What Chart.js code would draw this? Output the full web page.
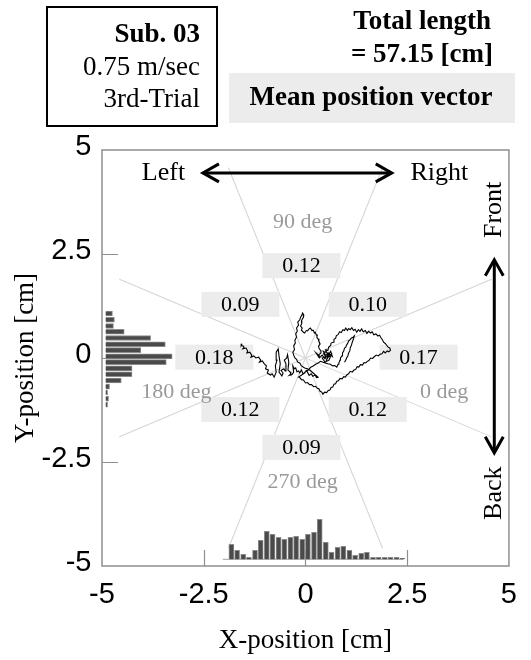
<!DOCTYPE html>
<html><head><meta charset="utf-8">
<script src="https://cdn.jsdelivr.net/npm/chart.js@4"></script>
<style>html,body{margin:0;padding:0;background:#fff;}canvas{display:block;}</style>
</head><body>
<canvas id="c" width="531" height="660"></canvas>
<script>
// ---------------- data ----------------
const xTickValues = [-5, -2.5, 0, 2.5, 5];
const xTickLabels = ['-5', '-2.5', '0', '2.5', '5'];
const yTickValues = [-5, -2.5, 0, 2.5, 5];
const yTickLabels = ['-5', '-2.5', '0', '2.5', '5'];

// trajectory [x, y] in cm
const trajectory = [
 [-1.56,0.34],[-1.58,0.30],[-1.53,0.29],[-1.51,0.26],[-1.54,0.22],[-1.46,0.24],[-1.42,0.17],[-1.44,0.12],[-1.37,0.14],[-1.32,0.07],
 [-1.34,0.02],[-1.27,0.05],[-1.22,0.00],[-1.15,0.02],[-1.10,-0.05],[-1.13,-0.10],[-1.06,-0.07],[-1.01,-0.14],[-0.96,-0.19],[-0.98,-0.26],
 [-0.91,-0.29],[-0.94,-0.36],[-0.86,-0.41],[-0.82,-0.38],[-0.77,-0.46],
 [-0.72,-0.34],[-0.74,-0.19],[-0.70,-0.05],[-0.72,0.14],[-0.67,0.22],[-0.65,0.05],[-0.62,-0.14],[-0.65,-0.34],[-0.58,-0.43],[-0.55,-0.36],
 [-0.60,-0.30],[-0.53,-0.26],[-0.50,-0.31],[-0.48,-0.14],[-0.52,-0.05],[-0.46,0.00],[-0.44,0.08],[-0.41,-0.10],[-0.43,-0.29],[-0.38,-0.33],
 [-0.36,-0.38],[-0.40,-0.42],[-0.33,-0.40],[-0.29,-0.34],[-0.31,-0.19],[-0.27,-0.26],[-0.24,-0.24],[-0.21,-0.33],[-0.17,-0.31],[-0.14,-0.36],
 [-0.10,-0.29],[-0.06,-0.38],[-0.02,-0.36],[0.02,-0.30],[0.05,-0.34],[0.09,-0.42],[0.14,-0.38],[0.18,-0.44],[0.24,-0.41],[0.27,-0.47],[0.31,-0.46],
 [0.19,-0.36],[0.12,-0.30],[0.05,-0.26],[-0.02,-0.24],[-0.10,-0.19],[-0.14,-0.12],[-0.19,-0.10],[-0.22,-0.03],[-0.26,0.00],[-0.29,0.07],
 [-0.31,0.14],[-0.27,0.20],[-0.29,0.29],[-0.25,0.36],[-0.26,0.43],[-0.22,0.50],[-0.24,0.58],[-0.20,0.65],[-0.22,0.72],[-0.17,0.79],
 [-0.19,0.86],[-0.14,0.92],[-0.12,0.98],[-0.09,1.03],[-0.07,1.08],[-0.04,1.03],[-0.05,0.98],[-0.08,0.93],[-0.10,0.89],[-0.09,0.83],
 [-0.12,0.77],[-0.08,0.72],[-0.10,0.67],[-0.05,0.62],[-0.02,0.60],[0.02,0.66],[0.05,0.65],[0.09,0.70],[0.12,0.72],[0.16,0.66],
 [0.19,0.67],[0.22,0.60],[0.24,0.62],[0.27,0.55],[0.29,0.55],[0.28,0.49],[0.31,0.46],[0.33,0.40],[0.36,0.34],[0.32,0.28],
 [0.34,0.22],[0.38,0.17],[0.38,0.12],[0.33,0.08],[0.34,0.05],
 [0.26,0.12],[0.34,0.00],[0.41,0.07],[0.48,-0.02],[0.55,0.10],[0.50,0.17],[0.60,0.02],[0.65,0.12],[0.58,-0.05],[0.48,-0.10],
 [0.41,0.00],[0.55,0.05],[0.62,0.16],[0.66,0.04],[0.57,0.12],[0.52,-0.04],[0.60,0.08],[0.45,0.10],[0.50,0.03],[0.44,0.16],
 [0.48,0.14],[0.50,0.20],[0.55,0.18],[0.57,0.26],[0.62,0.30],[0.63,0.36],[0.68,0.38],[0.70,0.45],[0.74,0.47],[0.76,0.54],
 [0.80,0.56],[0.84,0.63],[0.88,0.61],[0.92,0.68],[0.96,0.66],[0.99,0.72],[1.03,0.66],[1.06,0.71],[1.10,0.68],[1.14,0.73],
 [1.18,0.66],[1.22,0.69],[1.26,0.62],[1.30,0.68],[1.34,0.64],[1.38,0.70],[1.42,0.63],[1.47,0.66],[1.51,0.59],[1.55,0.64],
 [1.60,0.60],[1.64,0.63],[1.68,0.56],[1.73,0.58],[1.78,0.53],[1.82,0.55],[1.86,0.48],[1.89,0.44],[1.92,0.38],[1.96,0.35],
 [2.00,0.30],[2.03,0.26],[2.07,0.24],[2.09,0.19],[2.05,0.15],[2.01,0.17],[1.96,0.12],[1.92,0.16],[1.88,0.10],[1.83,0.09],
 [1.79,0.05],[1.74,0.07],[1.69,0.03],[1.65,-0.01],[1.60,0.00],[1.56,-0.06],[1.52,-0.08],[1.48,-0.12],[1.44,-0.11],[1.40,-0.17],
 [1.35,-0.16],[1.31,-0.22],[1.27,-0.21],[1.23,-0.28],[1.19,-0.29],[1.15,-0.34],[1.10,-0.32],[1.06,-0.38],[1.02,-0.40],[0.98,-0.46],
 [0.94,-0.45],[0.90,-0.50],[0.85,-0.49],[0.81,-0.55],[0.77,-0.56],[0.74,-0.62],[0.70,-0.63],[0.67,-0.70],[0.63,-0.71],[0.60,-0.77],
 [0.56,-0.78],[0.52,-0.83],[0.47,-0.82],[0.43,-0.87],[0.40,-0.82],[0.36,-0.80],[0.33,-0.74],[0.29,-0.73],[0.25,-0.68],[0.20,-0.69],
 [0.15,-0.64],[0.10,-0.64],[0.05,-0.59],[0.00,-0.60],[-0.05,-0.53],[-0.10,-0.52],[-0.14,-0.47],[-0.17,-0.46],
 [-0.05,-0.38],[0.01,-0.32],[0.07,-0.29],[0.13,-0.22],[0.19,-0.19],[0.25,-0.15],[0.31,-0.12],[0.37,-0.08],[0.43,-0.10],[0.49,-0.12],
 [0.55,-0.14],[0.61,-0.15],[0.67,-0.19],[0.72,-0.18],[0.77,-0.22],[0.80,-0.15],[0.82,-0.12],[0.85,-0.05],[0.86,0.00],[0.90,0.05],
 [0.91,0.12],[0.94,0.17],[0.96,0.24],[0.99,0.26],[1.01,0.31],[1.04,0.36],[1.06,0.41],[1.10,0.44],[1.13,0.48],[1.17,0.50],
 [1.20,0.53],[1.18,0.46],[1.15,0.38],[1.13,0.31],[1.10,0.24],[1.09,0.17],[1.06,0.12],[1.04,0.05],[1.01,0.00],[0.99,-0.05],[0.96,-0.10]
];

// X-position histogram (bin centres [cm] and counts)
const histXBins = [-1.82,-1.68,-1.53,-1.39,-1.24,-1.10,-0.95,-0.81,-0.66,-0.52,-0.37,-0.23,-0.08,0.06,0.21,0.35,0.50,0.64,0.79,0.93,1.08,1.22,1.37,1.51,1.66,1.80,1.95,2.09,2.24,2.38];
const histXCounts = [15,9,5,2,9,19,28,25,22,20,22,23,20,25,27,40,17,7,12,13,9,4,6,7,2,2,2,2,2,1];
const histXRange = [-2.03, 2.40];
// Y-position histogram
const histYBins = [1.07,0.92,0.77,0.63,0.48,0.33,0.19,0.04,-0.10,-0.25,-0.39,-0.54,-0.69,-0.83,-0.98,-1.12];
const histYCounts = [7,9,8,19,46,61,36,68,62,27,27,16,4,2,3,2];

// mean position vector per 45-degree sector
const sectorDeg = [0, 45, 90, 135, 180, 225, 270, 315];
const sectorValues = ['0.17', '0.10', '0.12', '0.09', '0.18', '0.12', '0.09', '0.12'];
const boundaryDeg = [22.5, 67.5, 112.5, 157.5, 202.5, 247.5, 292.5, 337.5];
const directionLabels = ['0 deg', '90 deg', '180 deg', '270 deg'];

const subjectLines = ['Sub. 03', '0.75 m/sec', '3rd-Trial'];
const totalLengthLines = ['Total length', '= 57.15 [cm]'];
const meanTitle = 'Mean position vector';

// ---------------- layout (positions in data units) ----------------
const guideRadius = 4.95;
const sectorLabelPos = [[2.78,0.02],[1.53,1.29],[-0.10,2.22],[-1.60,1.29],[-2.24,0.02],[-1.60,-1.24],[-0.10,-2.15],[1.53,-1.24]];
const dirLabelPos = [[3.41,-0.82],[-0.07,3.27],[-3.17,-0.82],[-0.07,-2.98]];
const lrArrow = {x1:-2.52, x2:2.12, y:4.45, left:[-3.49,4.45], right:[3.29,4.45]};
const fbArrow = {x:4.64, y1:2.36, y2:-2.28, front:[4.64,3.56], back:[4.64,-3.25]};

const SERIF = '"Liberation Serif", "Times New Roman", serif';
const SANS = '"Liberation Sans", Arial, sans-serif';

function head(ctx, tx, ty, ux, uy) {
  const L = 16, W = 9;
  const bx = tx - ux * L, by = ty - uy * L;
  ctx.beginPath();
  ctx.moveTo(bx - uy * W, by + ux * W);
  ctx.lineTo(tx, ty);
  ctx.lineTo(bx + uy * W, by - ux * W);
  ctx.stroke();
}

const annot = {
  id: 'annot',
  beforeDatasetsDraw(chart) {
    const {ctx, chartArea: a} = chart;
    const xs = chart.scales.x, ys = chart.scales.y;
    ctx.save();
    ctx.strokeStyle = '#8f8f8f';
    ctx.lineWidth = 1.5;
    ctx.strokeRect(a.left, a.top, a.right - a.left, a.bottom - a.top);
    ctx.lineWidth = 1.2;
    ctx.beginPath();
    xs.ticks.forEach(t => {
      if (t.value > xs.min && t.value < xs.max) {
        const p = Math.round(xs.getPixelForValue(t.value)) + 0.5;
        ctx.moveTo(p, a.bottom); ctx.lineTo(p, a.bottom - 16);
      }
    });
    ys.ticks.forEach(t => {
      if (t.value > ys.min && t.value < ys.max) {
        const p = Math.round(ys.getPixelForValue(t.value)) + 0.5;
        ctx.moveTo(a.left, p); ctx.lineTo(a.left + 16, p);
      }
    });
    ctx.stroke();
    ctx.restore();
  },
  beforeDatasetDraw(chart, args) {
    if (chart.data.datasets[args.index].label !== 'trajectory') return;
    const {ctx} = chart;
    const xs = chart.scales.x, ys = chart.scales.y;
    const P = (p) => [xs.getPixelForValue(p[0]), ys.getPixelForValue(p[1])];
    ctx.save();
    ctx.textAlign = 'center';
    ctx.textBaseline = 'middle';
    sectorValues.forEach((v, i) => {
      const [px, py] = P(sectorLabelPos[i]);
      ctx.fillStyle = '#ececec';
      ctx.fillRect(px - 39, py - 12.5, 78, 25);
      ctx.fillStyle = '#000';
      ctx.font = '22px ' + SERIF;
      ctx.fillText(v, px, py + 1);
    });
    ctx.fillStyle = '#9a9a9a';
    ctx.font = '22px ' + SERIF;
    directionLabels.forEach((t, i) => {
      const [px, py] = P(dirLabelPos[i]);
      ctx.fillText(t, px, py);
    });
    ctx.strokeStyle = '#000';
    ctx.lineWidth = 3;
    ctx.lineCap = 'butt';
    ctx.lineJoin = 'miter';
    const ax1 = xs.getPixelForValue(lrArrow.x1), ax2 = xs.getPixelForValue(lrArrow.x2), ay = ys.getPixelForValue(lrArrow.y);
    ctx.beginPath(); ctx.moveTo(ax1 + 2, ay); ctx.lineTo(ax2 - 2, ay); ctx.stroke();
    head(ctx, ax1, ay, -1, 0); head(ctx, ax2, ay, 1, 0);
    const bx = xs.getPixelForValue(fbArrow.x), by1 = ys.getPixelForValue(fbArrow.y1), by2 = ys.getPixelForValue(fbArrow.y2);
    ctx.beginPath(); ctx.moveTo(bx, by1 + 2); ctx.lineTo(bx, by2 - 2); ctx.stroke();
    head(ctx, bx, by1, 0, -1); head(ctx, bx, by2, 0, 1);
    ctx.fillStyle = '#000';
    ctx.font = '26px ' + SERIF;
    let [lx, ly] = P(lrArrow.left); ctx.fillText('Left', lx, ly);
    [lx, ly] = P(lrArrow.right); ctx.fillText('Right', lx, ly);
    [lx, ly] = P(fbArrow.front);
    ctx.save(); ctx.translate(lx, ly); ctx.rotate(-Math.PI / 2); ctx.fillText('Front', 0, 0); ctx.restore();
    [lx, ly] = P(fbArrow.back);
    ctx.save(); ctx.translate(lx, ly); ctx.rotate(-Math.PI / 2); ctx.fillText('Back', 0, 0); ctx.restore();
    ctx.restore();
  },
  afterDraw(chart) {
    const {ctx} = chart;
    ctx.save();
    ctx.strokeStyle = '#000';
    ctx.lineWidth = 2;
    ctx.strokeRect(47, 7, 170, 119);
    ctx.fillStyle = '#000';
    ctx.textBaseline = 'middle';
    ctx.textAlign = 'right';
    ctx.font = 'bold 27px ' + SERIF;
    ctx.fillText(subjectLines[0], 200, 35);
    ctx.font = '27px ' + SERIF;
    ctx.fillText(subjectLines[1], 200, 68);
    ctx.fillText(subjectLines[2], 200, 100);
    ctx.font = 'bold 27px ' + SERIF;
    ctx.fillText(totalLengthLines[0], 491, 22);
    ctx.fillText(totalLengthLines[1], 493, 55);
    ctx.fillStyle = '#ececec';
    ctx.fillRect(229, 73, 286, 50);
    ctx.fillStyle = '#000';
    ctx.textAlign = 'center';
    ctx.fillText(meanTitle, 371, 98);
    ctx.restore();
  }
};

const guideData = [];
boundaryDeg.forEach(d => {
  const r = d * Math.PI / 180;
  guideData.push({x: 0, y: 0});
  guideData.push({x: guideRadius * Math.cos(r), y: guideRadius * Math.sin(r)});
});

const tickFont = {family: SANS, size: 29, lineHeight: 1};
const titleFont = {family: SERIF, size: 27};

new Chart(document.getElementById('c'), {
  type: 'scatter',
  data: {
    datasets: [
      {
        label: 'trajectory', type: 'scatter', showLine: true,
        data: trajectory.map(p => ({x: p[0], y: p[1]})),
        borderColor: '#000', borderWidth: 1.1, pointRadius: 0, tension: 0, fill: false, order: 0
      },
      {
        label: 'histX', type: 'bar', xAxisID: 'x', yAxisID: 'yB', grouped: false,
        data: histXBins.map((b, i) => ({x: b, y: histXCounts[i]})),
        barThickness: 5, backgroundColor: '#4a4a4a', borderColor: '#8c8c8c', borderWidth: 1, order: 1
      },
      {
        label: 'histY', type: 'bar', indexAxis: 'y', xAxisID: 'xL', yAxisID: 'y', grouped: false,
        data: histYBins.map((b, i) => ({x: histYCounts[i], y: b})),
        barThickness: 5, backgroundColor: '#4a4a4a', borderColor: '#8c8c8c', borderWidth: 1, order: 2
      },
      {
        label: 'histXBase', type: 'scatter', showLine: true, xAxisID: 'x', yAxisID: 'yB',
        data: histXRange.map(x => ({x, y: 0})),
        borderColor: '#a0a0a0', borderWidth: 1, pointRadius: 0, order: 3
      },
      {
        label: 'guides', type: 'scatter', showLine: true,
        data: guideData,
        borderColor: '#dadada', borderWidth: 1, pointRadius: 0, order: 4
      }
    ]
  },
  options: {
    responsive: false,
    animation: false,
    events: [],
    layout: {padding: {top: 150, right: 13, bottom: 0, left: 0}},
    plugins: {legend: {display: false}, tooltip: {enabled: false}},
    scales: {
      x: {
        type: 'linear', position: 'bottom', min: -5, max: 5, offset: false,
        afterBuildTicks: s => { s.ticks = xTickValues.map(v => ({value: v})); },
        afterFit: s => { s.height = 94; },
        ticks: {autoSkip: false, maxRotation: 0, padding: 14, font: tickFont, color: '#000',
          callback: (v, i) => xTickLabels[i]},
        grid: {display: false, drawTicks: false, offset: false},
        border: {display: false},
        title: {display: true, text: 'X-position [cm]', font: titleFont, color: '#000', padding: {top: 0, bottom: 3}}
      },
      y: {
        type: 'linear', position: 'left', min: -5, max: 5, offset: false,
        afterBuildTicks: s => { s.ticks = yTickValues.map(v => ({value: v})); },
        afterFit: s => { s.width = 102; },
        ticks: {autoSkip: false, padding: 10.5, labelOffset: -3, font: tickFont, color: '#000',
          callback: (v, i) => yTickLabels[i]},
        grid: {display: false, drawTicks: false, offset: false},
        border: {display: false},
        title: {display: true, text: 'Y-position [cm]', font: titleFont, color: '#000', padding: {top: 10, bottom: 0}}
      },
      xL: {type: 'linear', axis: 'x', position: 'bottom', display: false, min: -3.7, max: 412.3, offset: false},
      yB: {type: 'linear', axis: 'y', position: 'left', display: false, min: -6.7, max: 409.3, offset: false}
    }
  },
  plugins: [annot]
});
</script>
</body></html>
